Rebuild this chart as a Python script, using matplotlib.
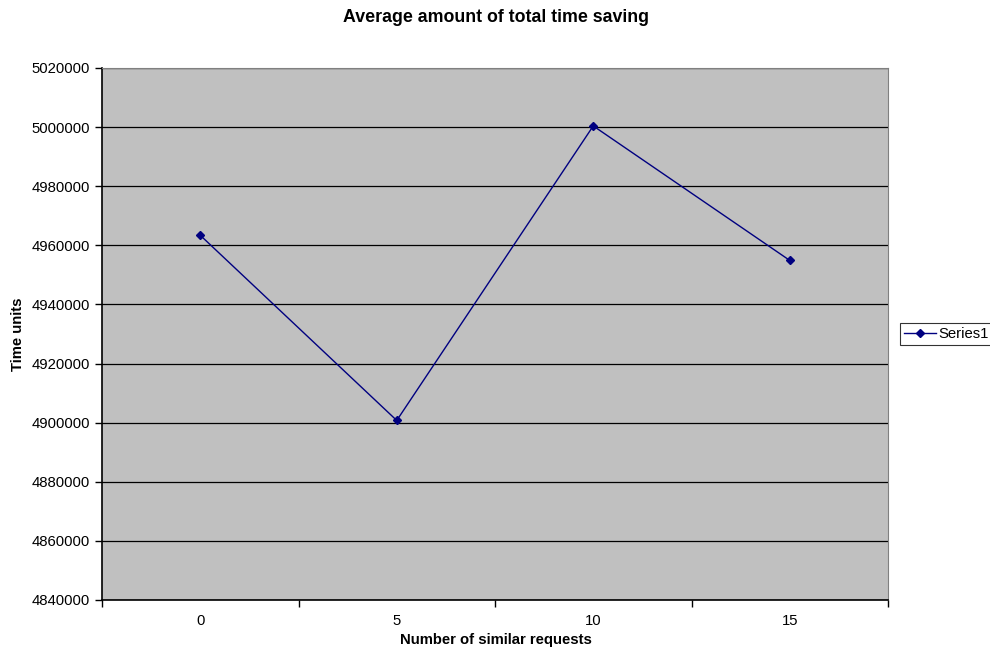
import numpy as np
import matplotlib.pyplot as plt

plt.rcParams['font.family'] = ['Liberation Sans', 'DejaVu Sans']

# data
categories = ['0', '5', '10', '15']
series1 = [4963400, 4900750, 5000400, 4954900]

fig = plt.figure(figsize=(9.9, 6.56), dpi=100)
ax = fig.add_axes([102/990, 1-600/656, (888-102)/990, (600-68)/656])
ax.set_facecolor('#c0c0c0')

x = np.arange(len(categories))
ax.plot(x, series1, '-D', color='#000080', lw=1, ms=4.5, label='Series1')

ax.set_ylim(4840000, 5020000)
ax.set_yticks(np.arange(4840000, 5020001, 20000))
ax.set_yticklabels(['%d' % v for v in np.arange(4840000, 5020001, 20000)])
ax.grid(axis='y', color='black', lw=0.9)
ax.set_axisbelow(True)

ax.set_xlim(-0.5, len(categories) - 0.5)
ax.set_xticks(np.arange(-0.5, len(categories), 1.0))
ax.set_xticklabels([])
ax.set_xticks(x, minor=True)
ax.set_xticklabels(categories, minor=True)
ax.tick_params(axis='x', which='minor', length=0, pad=10)
ax.tick_params(axis='both', which='major', length=5, width=1, color='black', labelsize=10.7)
ax.tick_params(axis='x', which='minor', labelsize=10.7)

for s in ['top', 'right']:
    ax.spines[s].set_color('#808080')
for s in ['left', 'bottom']:
    ax.spines[s].set_color('black')
    ax.spines[s].set_linewidth(1.2)

fig.text(496/990, 1-17/656, 'Average amount of total time saving', ha='center', va='center',
         fontsize=12.8, fontweight='bold')
fig.text(496/990, 1-640/656, 'Number of similar requests', ha='center', va='center',
         fontsize=10.7, fontweight='bold')
fig.text(18/990, 1-334/656, 'Time units', ha='center', va='center', rotation=90,
         fontsize=10.7, fontweight='bold')

leg = fig.legend(loc='center left', bbox_to_anchor=(900/990, 1-334/656), frameon=True,
                 fancybox=False, edgecolor='black', fontsize=10.7, handlelength=2.1,
                 borderpad=0.3, handletextpad=0.2, borderaxespad=0)
leg.get_frame().set_linewidth(0.8)

plt.savefig('out.png', dpi=100)
